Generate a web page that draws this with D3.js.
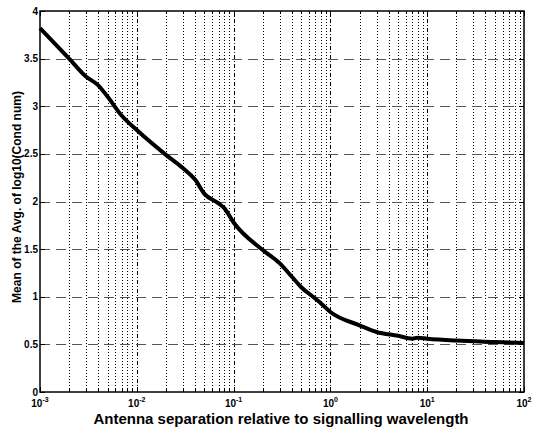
<!DOCTYPE html>
<html lang="en">
<head>
<meta charset="UTF-8">
<title>Mean of log10 condition number vs antenna separation</title>
<script src="https://d3js.org/d3.v7.min.js"></script>
<style>
    body { margin: 0; background: #fff; }
    svg { font-family: "Liberation Sans", Arial, Helvetica, sans-serif; font-weight: bold; }
</style>
</head>
<body>
<script>
// separation (in wavelengths) and the curve
const separation = [0.001, 0.002, 0.003, 0.004, 0.005, 0.007, 0.01, 0.02, 0.03, 0.04, 0.05, 0.07, 0.08,
                    0.1, 0.2, 0.3, 0.4, 0.5, 0.7, 0.8, 1, 2, 3, 5, 7, 8, 10, 20, 50, 100];
const meanLogCond = [3.82, 3.5, 3.31, 3.22, 3.1, 2.9, 2.75, 2.49, 2.35, 2.23, 2.08, 1.98, 1.93,
                     1.78, 1.49, 1.35, 1.21, 1.10, 0.98, 0.93, 0.84, 0.70, 0.63, 0.59, 0.56, 0.57, 0.56, 0.54, 0.525, 0.515];
const yTicks = [0, 0.5, 1, 1.5, 2, 2.5, 3, 3.5, 4];
const xDecades = [-3, -2, -1, 0, 1, 2];

const width = 534, height = 430;
const margin = {left: 40, right: 10, top: 11, bottom: 38};

const svg = d3.select("body").append("svg")
    .attr("width", width)
    .attr("height", height);

const x = d3.scaleLog().domain([1e-3, 1e2]).range([margin.left, width - margin.right]);
const y = d3.scaleLinear().domain([0, 4]).range([height - margin.bottom, margin.top]);

const x0 = x.range()[0], x1 = x.range()[1];
const y0 = y.range()[0], y1 = y.range()[1];
const px = v => Math.round(v) + 0.5;

// minor positions for each decade
const minor = [];
xDecades.slice(0, -1).forEach(d => {
    for (let k = 2; k <= 9; k++) minor.push(k * Math.pow(10, d));
});
const major = xDecades.map(d => Math.pow(10, d));

// vertical grid
const grid = svg.append("g").attr("shape-rendering", "crispEdges");
grid.selectAll(".vminor")
    .data(minor)
    .enter().append("line")
    .attr("x1", d => px(x(d))).attr("x2", d => px(x(d)))
    .attr("y1", y0).attr("y2", y1)
    .attr("stroke", "#000")
    .attr("stroke-width", 1)
    .attr("stroke-dasharray", "1,2");

grid.selectAll(".vmajor")
    .data(major.slice(1, -1))
    .enter().append("line")
    .attr("x1", d => px(x(d))).attr("x2", d => px(x(d)))
    .attr("y1", y0).attr("y2", y1)
    .attr("stroke", "#000")
    .attr("stroke-width", 1)
    .attr("stroke-dasharray", "4,2,1,2");

// horizontal grid
grid.selectAll(".hmajor")
    .data(yTicks.slice(1, -1))
    .enter().append("line")
    .attr("x1", x0).attr("x2", x1)
    .attr("y1", d => px(y(d))).attr("y2", d => px(y(d)))
    .attr("stroke", "#555")
    .attr("stroke-width", 1)
    .attr("stroke-dasharray", "10,6");

// axes frame
svg.append("rect")
    .attr("x", x0).attr("y", y1)
    .attr("width", x1 - x0).attr("height", y0 - y1)
    .attr("fill", "none")
    .attr("stroke", "#000")
    .attr("stroke-width", 1.5);

// ticks (inward, both sides)
const tickLen = 5;
const ticks = svg.append("g").attr("stroke", "#000").attr("stroke-width", 1).attr("shape-rendering", "crispEdges");
yTicks.forEach(v => {
    ticks.append("line").attr("x1", x0).attr("x2", x0 + tickLen).attr("y1", px(y(v))).attr("y2", px(y(v)));
    ticks.append("line").attr("x1", x1).attr("x2", x1 - tickLen).attr("y1", px(y(v))).attr("y2", px(y(v)));
});
minor.concat(major).forEach(v => {
    const l = major.includes(v) ? tickLen : 3;
    ticks.append("line").attr("x1", px(x(v))).attr("x2", px(x(v))).attr("y1", y0).attr("y2", y0 - l);
    ticks.append("line").attr("x1", px(x(v))).attr("x2", px(x(v))).attr("y1", y1).attr("y2", y1 + l);
});

// y tick labels
svg.append("g").selectAll("text")
    .data(yTicks)
    .enter().append("text")
    .attr("x", x0 - 2)
    .attr("y", d => y(d) + 3.5)
    .attr("text-anchor", "end")
    .attr("font-size", 10)
    .text(d => d);

// x tick labels 10^n
const xl = svg.append("g").selectAll("text")
    .data(xDecades)
    .enter().append("text")
    .attr("x", d => x(Math.pow(10, d)))
    .attr("y", y0 + 14.5)
    .attr("text-anchor", "middle")
    .attr("font-size", 10);
xl.append("tspan").text("10");
xl.append("tspan")
    .attr("dy", -5)
    .attr("font-size", 7)
    .text(d => d);

// curve
const line = d3.line()
    .x((d, i) => x(separation[i]))
    .y(d => y(d))
    .curve(d3.curveMonotoneX);

svg.append("path")
    .datum(meanLogCond)
    .attr("d", line)
    .attr("fill", "none")
    .attr("stroke", "#000")
    .attr("stroke-width", 4)
    .attr("stroke-linejoin", "round");

// axis labels
svg.append("text")
    .attr("x", 281)
    .attr("y", 423.5)
    .attr("text-anchor", "middle")
    .attr("font-size", 15)
    .text("Antenna separation relative to signalling wavelength");

svg.append("text")
    .attr("transform", `translate(21, 197) rotate(-90)`)
    .attr("text-anchor", "middle")
    .attr("font-size", 12)
    .text("Mean of the Avg. of log10(Cond num)");
</script>
</body>
</html>
